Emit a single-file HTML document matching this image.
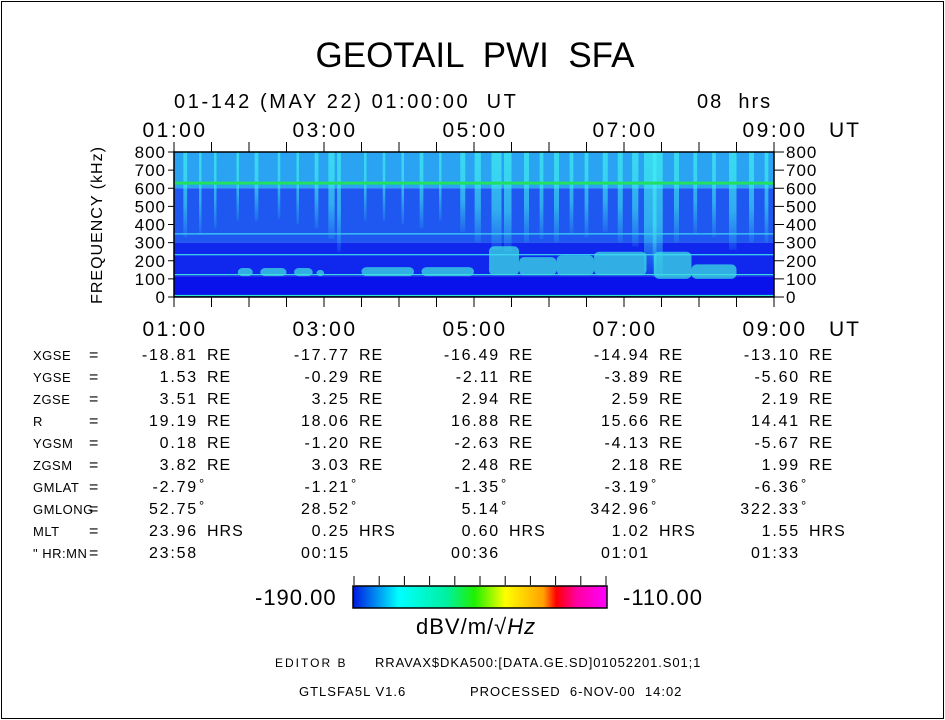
<!DOCTYPE html>
<html><head><meta charset="utf-8"><style>
body{margin:0;background:#fff;width:945px;height:720px;overflow:hidden;font-family:"Liberation Sans",sans-serif}
#frame{position:absolute;left:1px;top:1px;width:941px;height:716px;border:1px solid #000}
.t{position:absolute;white-space:pre;color:#000;font-weight:300;line-height:1}
svg{position:absolute;left:0;top:0}
</style></head><body>
<div id="frame"></div>
<div class="t" style="left:0;width:950px;text-align:center;top:38px;font-size:35px;letter-spacing:0px">GEOTAIL  PWI  SFA</div>
<div class="t" style="left:174px;top:92px;font-size:20px;letter-spacing:2.6px">01-142 (MAY 22) 01:00:00  UT</div>
<div class="t" style="left:697px;top:92px;font-size:20px;letter-spacing:2px">08  hrs</div>
<svg id="chart" width="945" height="720"></svg>
<div id="table"></div>
<div class="t" style="left:255px;top:587px;font-size:22px;letter-spacing:1px">-190.00</div>
<div class="t" style="left:623px;top:587px;font-size:22px;letter-spacing:1px">-110.00</div>
<div class="t" style="left:416px;top:616px;font-size:22px;letter-spacing:1px">dBV/m/√<i>Hz</i></div>
<div class="t" style="left:275px;top:657px;font-size:12px;letter-spacing:2px">EDITOR B</div>
<div class="t" style="left:375px;top:656px;font-size:13px;letter-spacing:0.9px">RRAVAX$DKA500:[DATA.GE.SD]01052201.S01;1</div>
<div class="t" style="left:299px;top:685px;font-size:13px;letter-spacing:1px">GTLSFA5L V1.6</div>
<div class="t" style="left:470px;top:685px;font-size:13px;letter-spacing:1px">PROCESSED  6-NOV-00  14:02</div>
<script>
// ---- data ----
const timeTicks=["01:00","03:00","05:00","07:00","09:00"];
const tickHours=[1,3,5,7,9];
const freqTicks=[0,100,200,300,400,500,600,700,800];
// burst streaks: hour, lowest freq (kHz), width (min)
const burstHours=[1.15,1.35,1.55,1.85,2.1,2.4,2.65,2.9,3.1,3.2,3.55,3.8,4.05,4.3,4.55,4.85,5.05,5.3,5.45,5.7,5.9,6.1,6.3,6.5,6.75,6.95,7.15,7.35,7.45,7.7,7.95,8.2,8.45,8.7,8.9];
const burstLow=[330,350,380,420,420,430,400,380,320,250,420,420,400,380,420,360,300,260,250,300,320,300,350,330,360,300,280,120,110,300,350,330,260,300,300];
const burstWidth=[3,2,2,2,3,2,2,3,5,3,2,2,2,3,2,4,5,8,6,4,3,4,3,3,4,4,5,10,8,4,3,3,6,4,3];
// low-frequency bands: start hr, end hr, freq lo, freq hi
const bandStart=[1.85,2.15,2.6,2.9,3.5,4.3,5.2,5.6,6.1,6.6,7.4,7.9];
const bandEnd=[2.05,2.5,2.85,3.0,4.2,5.0,5.6,6.1,6.6,7.3,7.9,8.5];
const bandLo=[115,115,115,115,115,115,120,120,120,120,100,100];
const bandHi=[160,160,160,150,165,165,280,220,230,250,250,180];
// horizontal emission lines
const lineFreq=[630,345,230,120,5];
const lineColor=["#22e060","#40d8f0","#40d8f0","#40e0e0","#30e8d0"];
// table
const rowLabels=["XGSE","YGSE","ZGSE","R","YGSM","ZGSM","GMLAT","GMLONG","MLT","\" HR:MN"];
const col1=["-18.81","1.53","3.51","19.19","0.18","3.82","-2.79","52.75","23.96","23:58"];
const col2=["-17.77","-0.29","3.25","18.06","-1.20","3.03","-1.21","28.52","0.25","00:15"];
const col3=["-16.49","-2.11","2.94","16.88","-2.63","2.48","-1.35","5.14","0.60","00:36"];
const col4=["-14.94","-3.89","2.59","15.66","-4.13","2.18","-3.19","342.96","1.02","01:01"];
const col5=["-13.10","-5.60","2.19","14.41","-5.67","1.99","-6.36","322.33","1.55","01:33"];
const rowUnits=["RE","RE","RE","RE","RE","RE","°","°","HRS",""];

// ---- axes ----
const X0=174,X1=774,Y0=297,Y1=152;
const xs=h=>X0+(h-1)*(X1-X0)/8;
const ys=f=>Y0-f*(Y0-Y1)/800;
const NS="http://www.w3.org/2000/svg";
const svg=document.getElementById('chart');
function el(tag,attrs,parent){const e=document.createElementNS(NS,tag);for(const k in attrs)e.setAttribute(k,attrs[k]);(parent||svg).appendChild(e);return e;}

const defs=el('defs',{});
const bg=el('linearGradient',{id:'bst',x1:0,y1:0,x2:0,y2:1},defs);
el('stop',{offset:'0','stop-color':'#40f0f0','stop-opacity':0.7},bg);
el('stop',{offset:'0.6','stop-color':'#40f0f0','stop-opacity':0.55},bg);
el('stop',{offset:'1','stop-color':'#40f0f0','stop-opacity':0.1},bg);

const g=el('g',{});


[[600,800,'#2aa4f2'],[300,600,'#1e58f0'],[115,300,'#1028ee'],[0,115,'#0a12ec']].forEach(b=>{
 el('rect',{x:X0,y:ys(b[1]),width:X1-X0,height:ys(b[0])-ys(b[1]),fill:b[2]},g);
});
bandStart.forEach((s,i)=>{
 const r=el('rect',{x:xs(s),y:ys(bandHi[i]),width:xs(bandEnd[i])-xs(s),height:ys(bandLo[i])-ys(bandHi[i]),fill:'#40e8e0',opacity:0.7,rx:5});
 g.appendChild(r);
 
 
});
burstHours.forEach((h,i)=>{
 const w=burstWidth[i]*(X1-X0)/480;
 const r=el('rect',{x:xs(h)-w/2,y:ys(800),width:w,height:ys(burstLow[i])-ys(800),fill:'url(#bst)'},g);
 
 
});
lineFreq.forEach((f,i)=>{
 const l=el('rect',{x:X0,y:ys(f)-1.2,width:X1-X0,height:f===630?3:1.2,fill:lineColor[i]},g);
 
 
});
el('rect',{x:X0,y:Y1,width:X1-X0,height:Y0-Y1,fill:'none',stroke:'#000','stroke-width':1.5});

for(let k=0;k<=16;k++){
 const x=xs(1+k*0.5);
 el('line',{x1:x,x2:x,y1:Y1-10,y2:Y1,stroke:'#000'});
 el('line',{x1:x,x2:x,y1:Y0,y2:Y0+10,stroke:'#000'});
}
timeTicks.forEach((t,i)=>{
 [137,336].forEach(y=>{
  const tx=el('text',{x:xs(tickHours[i])+1,y:y,'text-anchor':'middle','font-size':21,'letter-spacing':2.5});
  tx.textContent=t;
  
  
 });
});
[137,336].forEach(y=>{const tx=el('text',{x:829,y:y,'font-size':21,'letter-spacing':2});tx.textContent='UT';});
freqTicks.forEach(f=>{
 el('line',{x1:X0-6,x2:X0,y1:ys(f),y2:ys(f),stroke:'#000'});
 el('line',{x1:X1,x2:X1+10,y1:ys(f),y2:ys(f),stroke:'#000'});
 const a=el('text',{x:X0-8,y:ys(f)+6,'text-anchor':'end','font-size':17,'letter-spacing':1});a.textContent=f;
 
 
 const b=el('text',{x:X1+12,y:ys(f)+6,'font-size':17,'letter-spacing':1});b.textContent=f;
 
 
});
const yt=el('text',{x:102,y:225,'text-anchor':'middle','font-size':16,'letter-spacing':1,transform:'rotate(-90 102 225)'});
yt.textContent='FREQUENCY  (kHz)';



const lg=el('linearGradient',{id:'cb'},defs);
[['0','#0018e0'],['0.18','#00ffff'],['0.37','#00f0a0'],['0.48','#20f000'],['0.6','#ffff00'],['0.75','#ffa000'],['0.8','#ff0000'],['0.88','#ff00a0'],['1','#ff00ff']].forEach(s=>el('stop',{offset:s[0],'stop-color':s[1]},lg));
const cb=el('rect',{x:353,y:586,width:254,height:22,fill:'url(#cb)',stroke:'#000','stroke-width':1.5});


for(let k=0;k<11;k++){const x=354+k*25.2;el('line',{x1:x,x2:x,y1:576,y2:585,stroke:'#000'});}

const tb=document.getElementById('table');
const cols=[col1,col2,col3,col4,col5];
const colRight=[198,350,500,650,800];
rowLabels.forEach((lab,r)=>{
 const y=348+r*22;
 const d=document.createElement('div');d.className='t';d.style.cssText=`left:33px;top:${y+1}px;font-size:13px;letter-spacing:0.5px`;d.textContent=lab;
 
 
 tb.appendChild(d);
 const e=document.createElement('div');e.className='t';e.style.cssText=`left:89px;top:${y}px;font-size:16px`;e.textContent='=';tb.appendChild(e);
 cols.forEach((c,ci)=>{
  const v=document.createElement('div');v.className='t';
  v.style.cssText=`left:${colRight[ci]-120}px;width:120px;text-align:right;top:${y}px;font-size:16px;letter-spacing:1.8px`;
  v.textContent=c[r];
  
  
  tb.appendChild(v);
  if(rowUnits[r]){const u=document.createElement('div');u.className='t';
   const deg=rowUnits[r]==='°';
   u.style.cssText=`left:${colRight[ci]+(deg?1:9)}px;top:${y-(deg?3:0)}px;font-size:${deg?13:16}px;letter-spacing:1px`;
   u.textContent=rowUnits[r];tb.appendChild(u);}
 });
});
</script>
</body></html>
